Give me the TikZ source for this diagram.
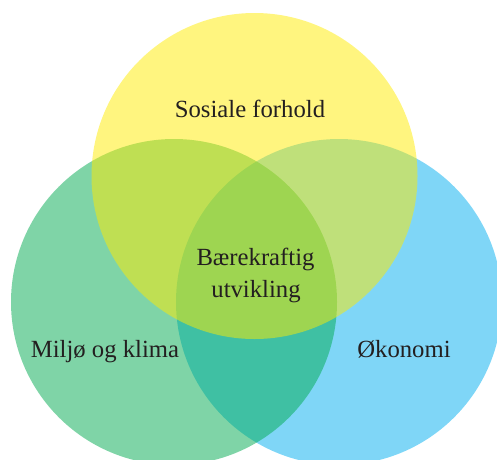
\documentclass[tikz,border=0pt]{standalone}
\usepackage{fontspec}
\setmainfont{Liberation Serif}

\definecolor{solgul}{RGB}{255,235,0}
\definecolor{skoggronn}{RGB}{0,170,80}
\definecolor{himmelblaa}{RGB}{0,174,239}
\definecolor{teksgraa}{RGB}{35,31,32}

\tikzset{
  sirkel/.style={opacity=0.5},
  etikett/.style={anchor=base, text=teksgraa, inner sep=0pt,
    font=\fontsize{24.7}{30}\selectfont}
}

\begin{document}
\begin{tikzpicture}[x=1pt,y=-1pt]

  % Fix the page to the size of the picture
  \useasboundingbox (0,0) rectangle (497,459);
  \clip (0,0) rectangle (497,459);

  % Centres of the three circles
  \coordinate (S) at (254.5,176);
  \coordinate (M) at (174,302);
  \coordinate (O) at (339,302);

  % Blue first, then green, then yellow on top
  \fill[sirkel, himmelblaa] (O) circle (163pt);
  \fill[sirkel, skoggronn] (M) circle (163pt);
  \fill[sirkel, solgul] (S) circle (163pt);

  % Labels
  \node[etikett] (sosiale) at (250,117) {Sosiale forhold};
  \node[etikett] (miljo) at (105,357) {Miljø og klima};
  \node[etikett] (okonomi) at (404,357) {Økonomi};
  \node[etikett] (baerekraft) at (255.5,265) {Bærekraftig};
  \node[etikett] (utvikling) at (256,297) {utvikling};

\end{tikzpicture}
\end{document}
